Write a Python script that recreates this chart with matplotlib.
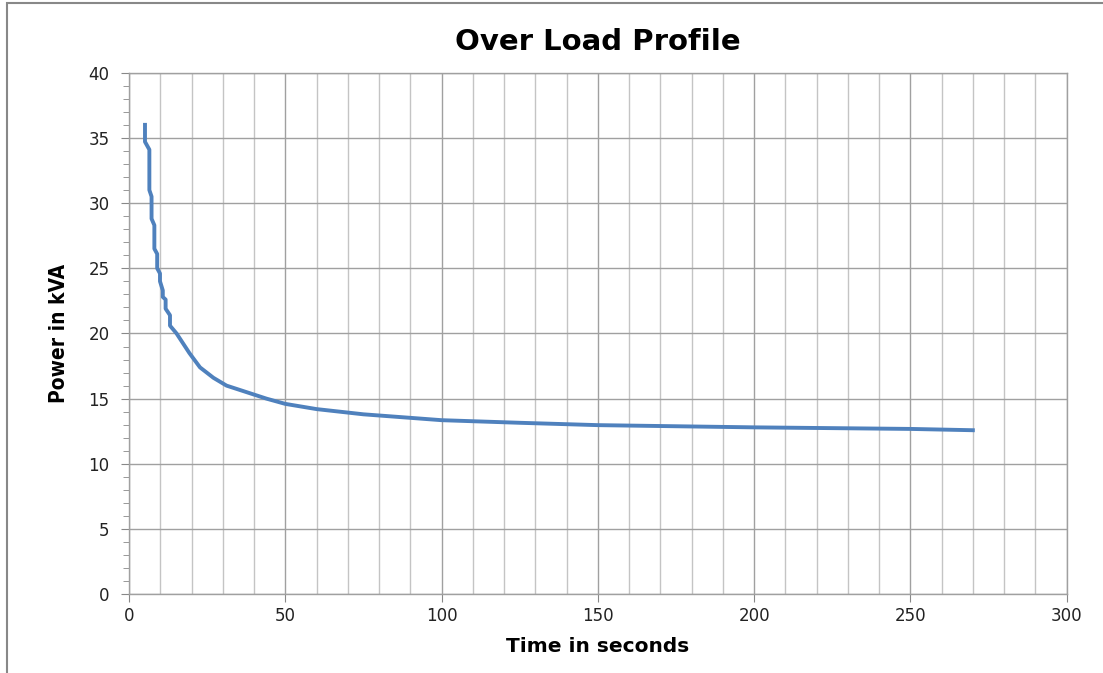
import matplotlib.pyplot as plt
from matplotlib.patches import Rectangle
from matplotlib.ticker import MultipleLocator

# time (s) vs power (kVA)
time_s = [5.1, 5.1, 6.5, 6.5, 7.2, 7.2, 8.1, 8.1, 9.0, 9.0, 9.9, 9.9,
          10.8, 10.8, 11.7, 11.7, 13.1, 13.1, 15.2, 19.3, 22.7, 27.0,
          31.2, 37.6, 44.0, 50, 60, 75, 100, 125, 150, 200, 250, 270]
power_kva = [36.0, 34.7, 34.1, 31.0, 30.5, 28.8, 28.3, 26.5, 26.1, 25.0,
             24.6, 24.0, 23.3, 22.8, 22.6, 21.9, 21.4, 20.6, 20.0, 18.5,
             17.4, 16.6, 16.0, 15.5, 15.0, 14.6, 14.2, 13.8, 13.35, 13.15,
             12.97, 12.8, 12.68, 12.58]

fig = plt.figure(figsize=(11.03, 6.73), dpi=100)
fig.patches.append(Rectangle((0.006, -0.01), 1.1, 1.005, transform=fig.transFigure,
                             fill=False, edgecolor="#888888", linewidth=1.5))
ax = fig.add_axes([0.117, 0.117, 0.850, 0.775])

ax.plot(time_s, power_kva, color="#4F81BD", linewidth=2.8, solid_joinstyle="round")

ax.set_xlim(0, 300)
ax.set_ylim(0, 40)
ax.xaxis.set_major_locator(MultipleLocator(50))
ax.xaxis.set_minor_locator(MultipleLocator(10))
ax.yaxis.set_major_locator(MultipleLocator(5))
ax.yaxis.set_minor_locator(MultipleLocator(1))

ax.grid(True, which="major", axis="both", color="#a0a0a0", linewidth=1.0)
ax.grid(True, which="minor", axis="x", color="#c4c4c4", linewidth=1.0)
ax.set_axisbelow(True)

for s in ax.spines.values():
    s.set_color("#a0a0a0")
    s.set_linewidth(1.0)

ax.tick_params(axis="both", which="major", length=6, color="#888888",
               labelsize=12, labelcolor="#222222")
ax.tick_params(axis="x", which="minor", length=0)
ax.tick_params(axis="y", which="minor", length=4, color="#888888")
ax.tick_params(axis="y", which="major", pad=8)

ax.set_title("Over Load Profile", fontsize=21, fontweight="bold", pad=16)
ax.set_xlabel("Time in seconds", fontsize=14.5, fontweight="bold", labelpad=8)
ax.set_ylabel("Power in kVA", fontsize=15, fontweight="bold", labelpad=14,
              family="DejaVu Sans", fontstretch="condensed")

plt.savefig("out.png", dpi=100)
